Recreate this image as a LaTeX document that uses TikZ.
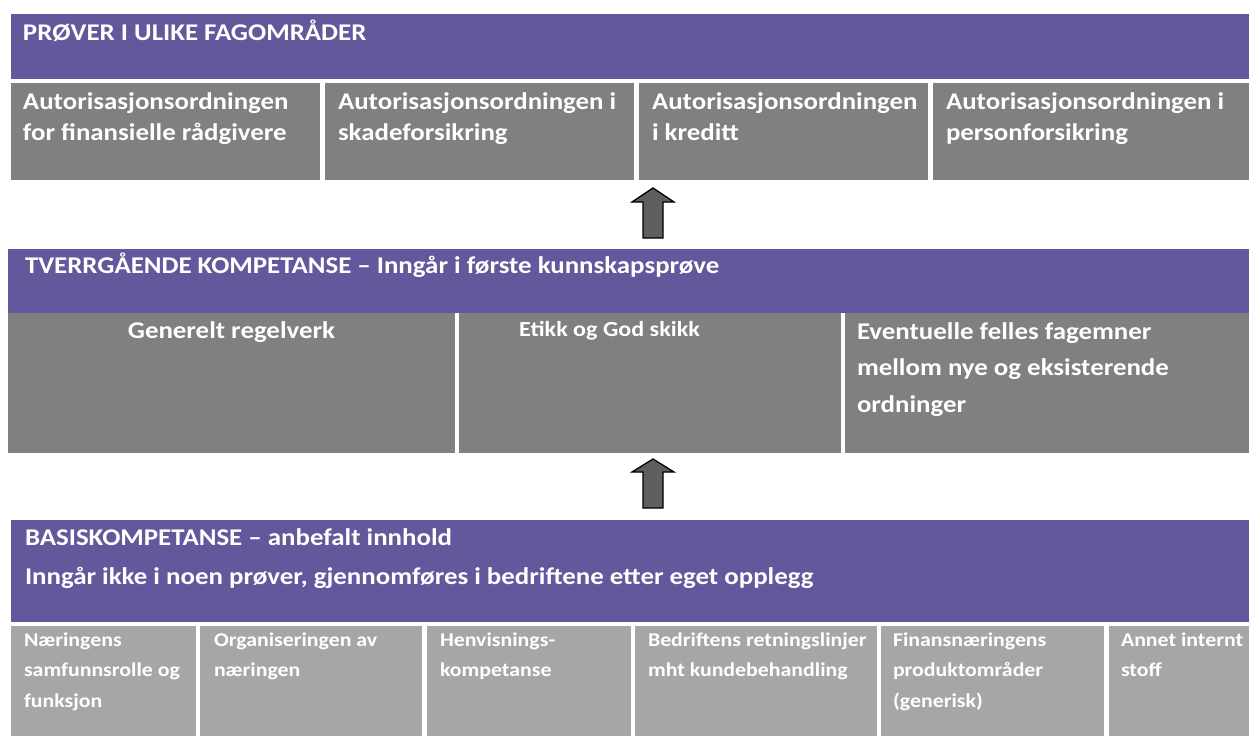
\documentclass[tikz,border=0pt]{standalone}
\usepackage{fontspec}
\setmainfont[FakeStretch=1.12]{Carlito}
\definecolor{bandpurple}{RGB}{100,87,155}
\definecolor{boxgray}{RGB}{128,128,128}
\definecolor{lightgray}{RGB}{166,166,166}
\definecolor{arrowgray}{RGB}{95,95,95}
\newcommand\fl{\rule{0pt}{1em}}
\begin{document}
\begin{tikzpicture}[x=1pt,y=-1pt,
  cell/.style={anchor=north west,inner sep=0pt,outer sep=0pt,draw=none},
  band/.style={cell,fill=bandpurple},
  gbox/.style={cell,fill=boxgray},
  lbox/.style={cell,fill=lightgray},
  txt/.style={inner sep=0pt,outer sep=0pt,text=white,align=left,anchor=north west},
  big/.style={font={\bfseries\fontsize{24}{31}\selectfont}},
  mid/.style={font={\bfseries\fontsize{24}{36.5}\selectfont}},
  small/.style={font={\bfseries\fontsize{19.5}{30.5}\selectfont}},
  blockarrow/.style={draw=black,fill=arrowgray,line width=1.3pt,line join=miter}]
\useasboundingbox (0,0) rectangle (1249,736);
% ---------- top band ----------
\node[band,minimum width=1238pt,minimum height=65pt] (topband) at (11,14) {};
\node[txt,big] (toptitle) at (23,40-24) {\fl PRØVER I ULIKE FAGOMRÅDER};
\node[gbox,minimum width=309pt,minimum height=97pt] (t1) at (11,83) {};
\node[gbox,minimum width=309pt,minimum height=97pt] (t2) at (325,83) {};
\node[gbox,minimum width=289pt,minimum height=97pt] (t3) at (639,83) {};
\node[gbox,minimum width=316pt,minimum height=97pt] (t4) at (933,83) {};
\node[txt,big] (t1t) at (23,109-24) {\fl Autorisasjonsordningen\\for finansielle rådgivere};
\node[txt,big] (t2t) at (338,109-24) {\fl Autorisasjonsordningen i\\skadeforsikring};
\node[txt,big] (t3t) at (652,109-24) {\fl Autorisasjonsordningen\\i kreditt};
\node[txt,big] (t4t) at (946,109-24) {\fl Autorisasjonsordningen i\\personforsikring};
% ---------- arrow 1 ----------
\coordinate (a1) at (653,213);
\begin{scope}[shift={(a1)}]
\draw[blockarrow] (0,-25) -- (21,-11) -- (10,-11) -- (10,25) -- (-10,25) -- (-10,-11) -- (-21,-11) -- cycle;
\end{scope}
% ---------- middle band ----------
\node[band,minimum width=1241pt,minimum height=64pt] (midband) at (8,249) {};
\node[txt,big] (midtitle) at (25,273-24) {\fl TVERRGÅENDE KOMPETANSE – Inngår i første kunnskapsprøve};
\node[gbox,minimum width=447pt,minimum height=140pt] (m1) at (8,313) {};
\node[gbox,minimum width=382pt,minimum height=140pt] (m2) at (459,313) {};
\node[gbox,minimum width=404pt,minimum height=140pt] (m3) at (845,313) {};
\node[inner sep=0pt,text=white,anchor=base,font={\bfseries\fontsize{24}{30}\selectfont}] (m1t) at (231.5,338) {Generelt regelverk};
\node[inner sep=0pt,text=white,anchor=base west,font={\bfseries\fontsize{21.5}{26}\selectfont}] (m2t) at (519,336) {Etikk og God skikk};
\node[txt,mid] (m3t) at (857,339-24) {\fl Eventuelle felles fagemner\\mellom nye og eksisterende\\ordninger};
% ---------- arrow 2 ----------
\coordinate (a2) at (653,484);
\begin{scope}[shift={(a2)}]
\draw[blockarrow] (0,-25) -- (21,-12) -- (10,-12) -- (10,24) -- (-10,24) -- (-10,-12) -- (-21,-12) -- cycle;
\end{scope}
% ---------- bottom band ----------
\node[band,minimum width=1238pt,minimum height=102pt] (botband) at (11,520) {};
\node[txt,font={\bfseries\fontsize{24}{39}\selectfont}] (bottitle) at (25,545-24) {\fl BASISKOMPETANSE – anbefalt innhold\\Inngår ikke i noen prøver, gjennomføres i bedriftene etter eget opplegg};
\node[lbox,minimum width=185pt,minimum height=110pt] (b1) at (11,626) {};
\node[lbox,minimum width=222pt,minimum height=110pt] (b2) at (200,626) {};
\node[lbox,minimum width=204pt,minimum height=110pt] (b3) at (427,626) {};
\node[lbox,minimum width=242pt,minimum height=110pt] (b4) at (635,626) {};
\node[lbox,minimum width=223pt,minimum height=110pt] (b5) at (881,626) {};
\node[lbox,minimum width=140pt,minimum height=110pt] (b6) at (1109,626) {};
\node[txt,small] (b1t) at (24,646-19.5) {\fl Næringens\\samfunnsrolle og\\funksjon};
\node[txt,small] (b2t) at (214,646-19.5) {\fl Organiseringen av\\næringen};
\node[txt,small] (b3t) at (440,646-19.5) {\fl Henvisnings-\\kompetanse};
\node[txt,small] (b4t) at (648,646-19.5) {\fl Bedriftens retningslinjer\\mht kundebehandling};
\node[txt,small] (b5t) at (893,646-19.5) {\fl Finansnæringens\\produktområder\\(generisk)};
\node[txt,small] (b6t) at (1121,646-19.5) {\fl Annet internt\\stoff};
\end{tikzpicture}
\end{document}
